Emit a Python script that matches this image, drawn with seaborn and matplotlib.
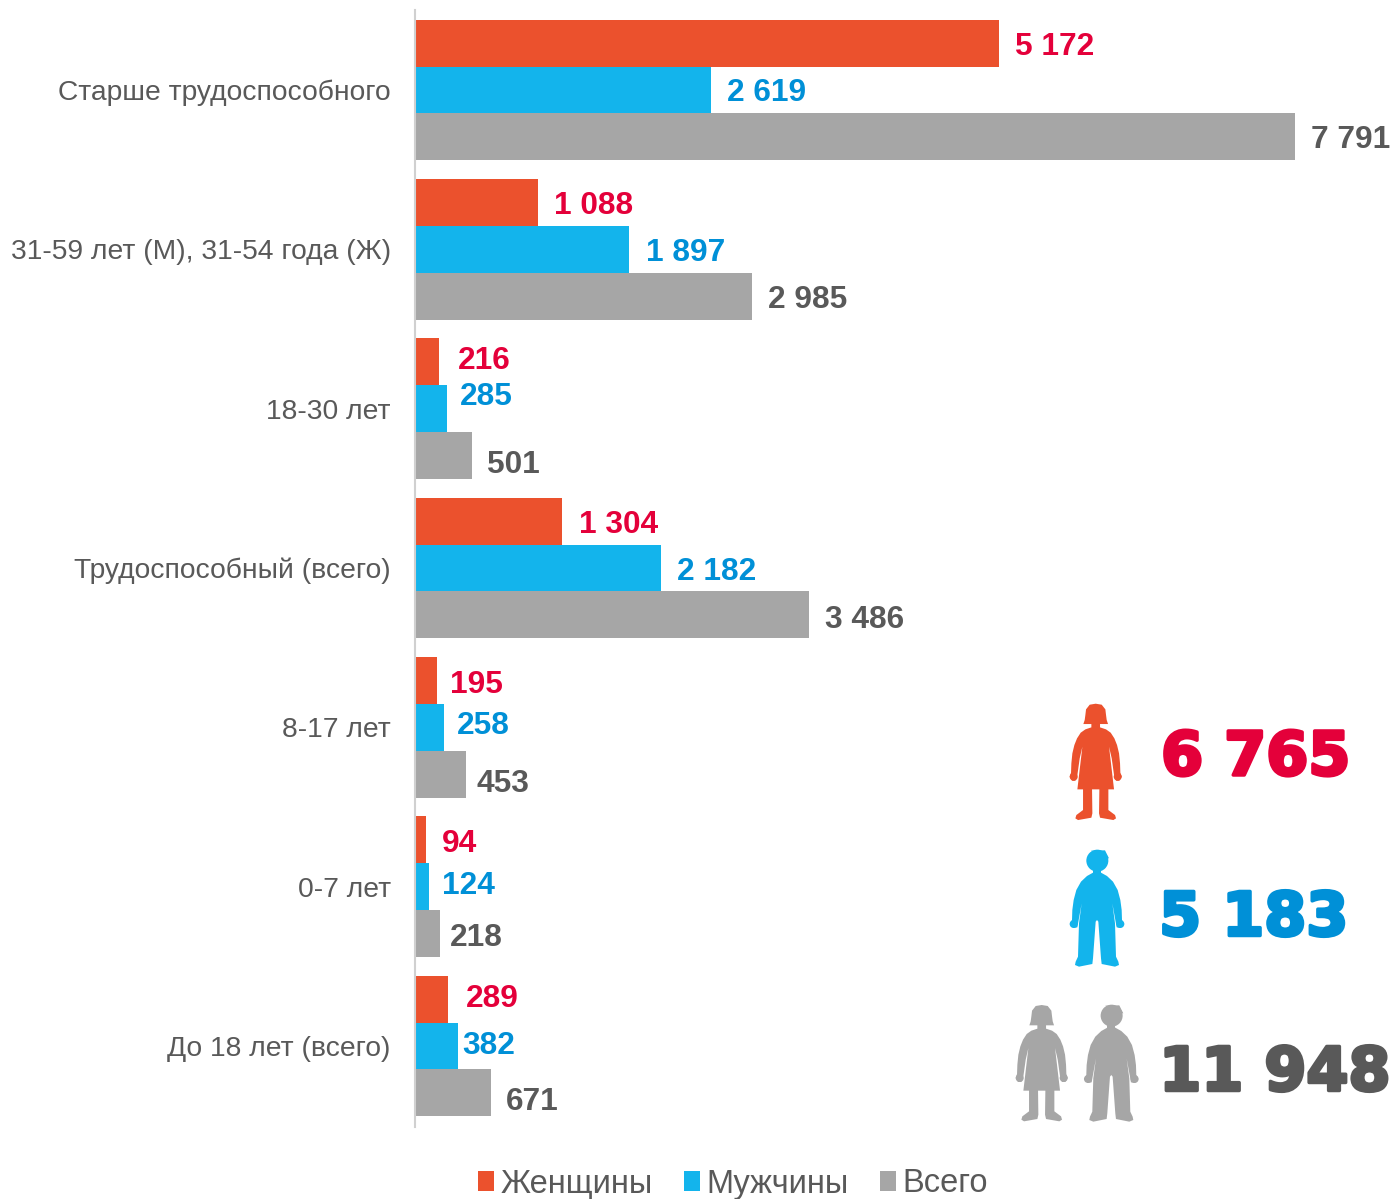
import matplotlib
matplotlib.use("Agg")
import matplotlib.pyplot as plt
import matplotlib.patheffects as pe
from matplotlib.patches import Polygon, Circle
import pandas as pd
import seaborn as sns

# ---- data
categories = ["Старше трудоспособного", "31-59 лет (М), 31-54 года (Ж)", "18-30 лет",
              "Трудоспособный (всего)", "8-17 лет", "0-7 лет", "До 18 лет (всего)"]
women = [5172, 1088, 216, 1304, 195, 94, 289]
men = [2619, 1897, 285, 2182, 258, 124, 382]
total = [7791, 2985, 501, 3486, 453, 218, 671]
series_names = ["Женщины", "Мужчины", "Всего"]
totals_big = [6765, 5183, 11948]

# ---- styles
bar_colors = ["#EB512D", "#13B4EC", "#A6A6A6"]
label_colors = ["#E4003A", "#0090D7", "#595959"]
text_grey = "#595959"
W, H = 1392, 1199
# label offsets in pixels (dx from bar end, dy from bar centre; down is positive)
label_dx = [[16, 16, 16], [16, 17, 16], [18, 13, 15], [17, 16, 16], [13, 13, 10], [16, 13, 10], [18, 4, 15]]
label_dy = [[0, 0, 0], [0, 0, 0], [-4, -15, 6], [0, 0, 2], [1, -5, 6], [1, -4, 1], [-4, -4, 6]]
label_shift = 3.5

sns.set_theme(style="white")
plt.rcParams["font.family"] = ["Liberation Sans", "DejaVu Sans"]

df = pd.DataFrame({
    "category": categories * 3,
    "series": [s for s in series_names for _ in categories],
    "value": women + men + total,
})

fig = plt.figure(figsize=(W / 100, H / 100), dpi=100, facecolor="white")
ax = fig.add_axes([415 / W, 1 - 1127 / H, (W - 415) / W, (1127 - 10) / H])
sns.barplot(data=df, y="category", x="value", hue="series", order=categories,
            hue_order=series_names, palette=bar_colors, width=0.882, gap=0,
            saturation=1, orient="h", errorbar=None, linewidth=0, ax=ax)
px_per_unit = 880 / 7791
ax.set_xlim(0, (W - 415) / px_per_unit)
ax.set_ylim(6.508, -0.502)
ax.set_xlabel("")
ax.set_ylabel("")
ax.set_xticks([])
ax.tick_params(axis="y", length=0, pad=17.5, labelsize=20.3, labelcolor=text_grey)
for s in ["top", "right", "bottom"]:
    ax.spines[s].set_visible(False)
ax.spines["left"].set_color("#D0D0D0")
ax.spines["left"].set_linewidth(1.5)

# data labels
group_w = 0.882 / 3
for si, vals in enumerate([women, men, total]):
    for ci, v in enumerate(vals):
        ax.annotate(f"{v:,}".replace(",", " "),
                    xy=(v, ci + (si - 1) * group_w),
                    xytext=(label_dx[ci][si], -(label_dy[ci][si] + label_shift)),
                    textcoords="offset pixels", ha="left", va="center",
                    fontsize=22.8, fontweight="bold", color=label_colors[si],
                    annotation_clip=False)

# legend
handles, labels = ax.get_legend_handles_labels()
ax.get_legend().remove()
leg = fig.legend(handles, labels, loc="center", bbox_to_anchor=(733 / W, 1 - 1184 / H),
                 ncol=3, frameon=False, fontsize=23.5, labelcolor=text_grey,
                 handlelength=0.5, handleheight=0.6, handletextpad=0.2,
                 columnspacing=0.95, borderpad=0, borderaxespad=0)

# overlay in pixel coordinates for the pictograms and totals
ov = fig.add_axes([0, 0, 1, 1], facecolor="none")
ov.set_xlim(0, W)
ov.set_ylim(H, 0)
ov.axis("off")

# half outlines (right side) traced in 3x zoom space, mirrored around the centre
woman_half = [(0, 41), (18, 44), (29, 58), (31, 75), (33, 90), (37, 102), (13, 102), (13, 112),
              (31, 118), (45, 128), (56, 145), (64, 165), (70, 190), (73, 220), (74, 248), (78, 260),
              (71, 272), (61, 272), (55, 255), (48, 205), (40, 170), (55, 298), (38, 298), (38, 360),
              (58, 375), (61, 385), (53, 390), (13, 383), (10, 370), (11, 298), (0, 298)]
man_half = [(0, 538), (12, 548), (30, 558), (48, 575), (62, 600), (70, 630), (74, 660), (75, 690),
            (80, 700), (71, 714), (59, 712), (55, 690), (46, 640), (54, 700), (57, 800), (64, 815),
            (66, 825), (54, 830), (14, 822), (12, 805), (4, 695), (0, 690)]


def draw_woman(cx, top, color):
    t = lambda x, y: (cx + x / 3, top + (y - 41) / 3)
    pts = [t(x, y) for x, y in woman_half] + [t(-x, y) for x, y in reversed(woman_half)]
    ov.add_patch(Polygon(pts, closed=True, fc=color, ec="none"))
    for sx in (-1, 1):
        ov.add_patch(Circle(t(sx * 66, 260), 12 / 3, fc=color, ec="none"))


def draw_man(cx, top, color):
    t = lambda x, y: (cx + x / 3, top + (y - 480) / 3)
    pts = [t(x, y) for x, y in man_half] + [t(-x, y) for x, y in reversed(man_half)]
    ov.add_patch(Polygon(pts, closed=True, fc=color, ec="none"))
    ov.add_patch(Circle(t(1, 512), 33 / 3, fc=color, ec="none"))
    ov.add_patch(Polygon([t(-18, 482), t(24, 481), t(36, 505), t(10, 505)], closed=True, fc=color, ec="none"))
    ov.add_patch(Polygon([t(-12, 530), t(12, 530), t(12, 548), t(-12, 548)], closed=True, fc=color, ec="none"))
    for sx in (-1, 1):
        ov.add_patch(Circle(t(sx * 70, 702), 12 / 3, fc=color, ec="none"))


draw_woman(1095.7, 703.7, bar_colors[0])
draw_man(1097, 850, bar_colors[1])
draw_woman(1041.7, 1005, bar_colors[2])
draw_man(1111.3, 1005, bar_colors[2])

big_pos = [(1350, 752), (1348, 912.5), (1390, 1067.5)]
for val, (x, y), c in zip(totals_big, big_pos, label_colors):
    ov.text(x, y, f"{val:,}".replace(",", " "), ha="right", va="center_baseline",
            family="DejaVu Sans", fontsize=43.5, fontweight="bold", color=c,
            path_effects=[pe.withStroke(linewidth=2.5, foreground=c)])

fig.savefig("out.png", dpi=100, facecolor="white")
